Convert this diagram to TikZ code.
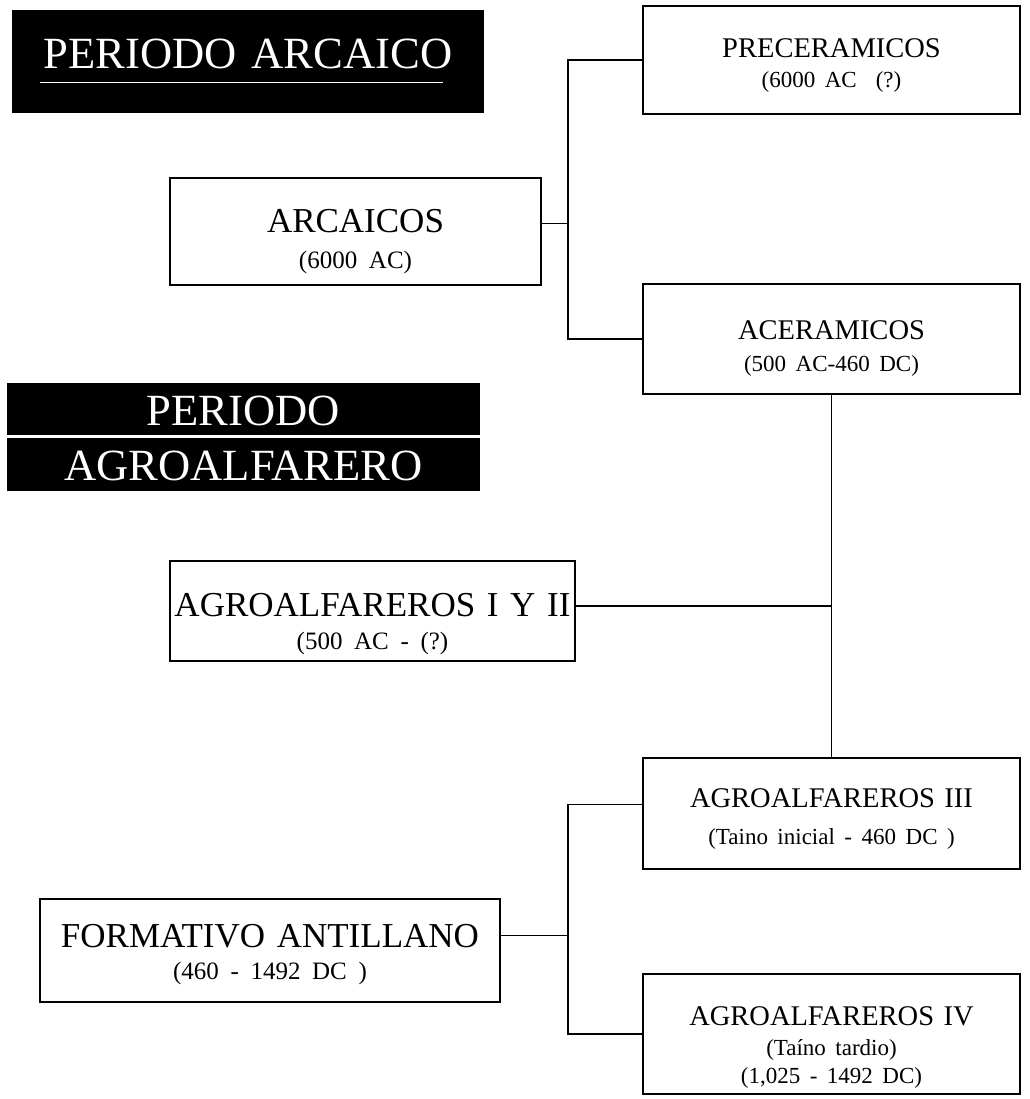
\documentclass[tikz,border=0pt]{standalone}
\usepackage{fontspec}
\setmainfont{Liberation Serif}[WordSpace=0.8]
\usetikzlibrary{positioning}
\newcommand{\datesz}{\fontsize{23}{30}\selectfont}
\newcommand{\datebig}{\fontsize{25}{30}\selectfont}
\tikzset{
  box/.style={draw, line width=2pt, anchor=north, inner sep=0pt, align=center},
  rbox/.style={box, text width=377pt, font=\fontsize{28.5}{30}\selectfont},
  lbox/.style={box, font=\fontsize{35}{30}\selectfont},
  titlebox/.style={fill=black, text=white, anchor=north, inner sep=0pt, align=center, font=\fontsize{44.6}{50}\selectfont},
  link/.style={line width=1.5pt}
}
\begin{document}
\begin{tikzpicture}[x=1pt, y=-1pt]
  \useasboundingbox (0,0) rectangle (1029,1099);

  % period titles
  \node[titlebox, text width=472pt, text height=58pt, text depth=45pt] (tarc) at (248,10) {PERIODO ARCAICO};
  \draw[white, line width=1.2pt] ([xshift=28pt,yshift=-21pt]tarc.west) -- ([xshift=-41pt,yshift=-21pt]tarc.east);
  \node[titlebox, text width=473pt, text height=42pt, text depth=10pt] (tagro1) at (243.5,383) {PERIODO};
  \node[titlebox, text width=473pt, text height=43pt, text depth=10pt, below=2pt of tagro1] (tagro2) {AGROALFARERO};

  % groups
  \node[rbox, text height=52pt, text depth=56pt] (prec) at (831.5,5) {PRECERAMICOS\\{\datesz (6000 AC\ \ (?)}};
  \node[lbox, text width=371pt, text height=55pt, text depth=52pt] (arc) at (355.5,177) {ARCAICOS\hspace*{36pt}\\[6pt]{\datebig (6000 AC)\hspace*{36pt}}};
  \node[rbox, text height=55pt, text depth=55pt] (acer) at (831.5,283) {ACERAMICOS\\[2pt]{\datesz (500 AC-460 DC)}};
  \node[lbox, text width=405pt, text height=55pt, text depth=45pt] (agro12) at (372.5,560) {AGROALFAREROS I Y II\\[3pt]{\datebig (500 AC - (?)}};
  \node[rbox, text height=49pt, text depth=62pt] (agro3) at (831.5,757) {AGROALFAREROS III\\[7pt]{\datesz (Taino inicial - 460 DC )}};
  \node[lbox, text width=460pt, text height=48pt, text depth=55pt] (form) at (270,898) {FORMATIVO ANTILLANO\\[2pt]{\datebig (460 - 1492 DC )}};
  \node[rbox, text height=51pt, text depth=69pt] (agro4) at (831.5,973) {AGROALFAREROS IV\\{\datesz (Taíno tardio)\\[-2pt](1,025 - 1492 DC)}};

  % connectors
  \coordinate (jarc) at ([xshift=26pt,yshift=8pt]arc.east);
  \coordinate (jform) at ([xshift=67pt,yshift=15pt]form.east);
  \draw[link] ([yshift=8pt]arc.east) -- (jarc);
  \draw[link] (prec.west) -| (jarc) |- (acer.west);
  \draw[link] (acer.south) -- (agro3.north);
  \draw[link] ([yshift=5pt]agro12.east) -- ([yshift=5pt]agro12.east -| acer.south);
  \draw[link] ([yshift=15pt]form.east) -- (jform);
  \draw[link] ([yshift=9pt]agro3.west) -| (jform) |- (agro4.west);
\end{tikzpicture}
\end{document}
